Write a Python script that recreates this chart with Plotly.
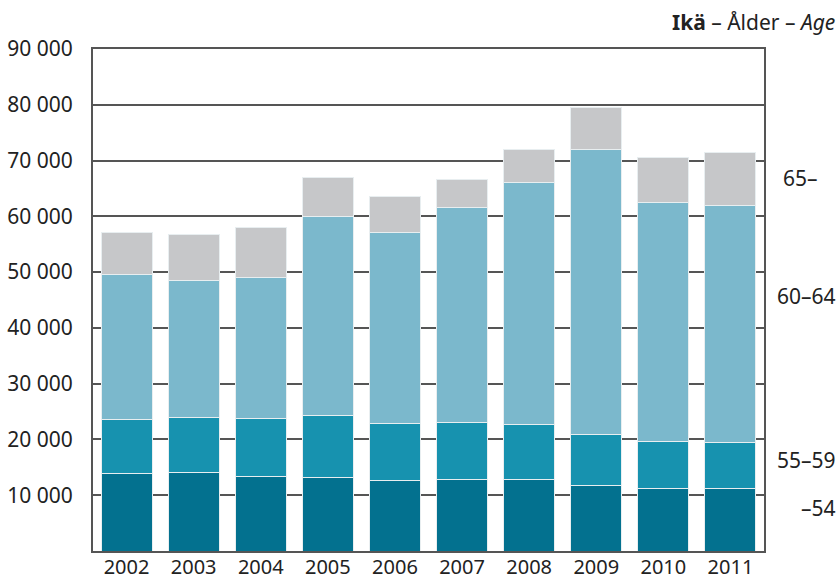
import plotly.graph_objects as go

years = ["2002", "2003", "2004", "2005", "2006", "2007", "2008", "2009", "2010", "2011"]
age_54 = [13920, 14100, 13380, 13200, 12600, 12900, 12780, 11710, 11230, 11170]
age_55_59 = [9610, 9790, 10330, 11050, 10210, 10100, 9860, 9200, 8480, 8240]
age_60_64 = [25990, 24550, 25270, 35660, 34230, 38530, 43430, 51070, 42830, 42600]
age_65 = [7520, 8370, 9080, 7060, 6580, 5080, 5850, 7470, 8070, 9440]
y_ticks = [10000, 20000, 30000, 40000, 50000, 60000, 70000, 80000, 90000]

series_names = ["–54", "55–59", "60–64", "65–"]
series_values = [age_54, age_55_59, age_60_64, age_65]
colors = ["#03718F", "#1792AF", "#7BB8CC", "#C6C7C9"]

FONT = "Noto Sans"
TXT = "#222222"
FS = 21
W, H = 840, 581
plot_l, plot_r, plot_t, plot_b = 93, 764, 49, 551

def px_to_paper(px, py):
    return (px - plot_l) / (plot_r - plot_l), (plot_b - py) / (plot_b - plot_t)

fig = go.Figure()
for name, vals, col in zip(series_names, series_values, colors):
    fig.add_trace(go.Bar(x=years, y=vals, name=name,
                         marker=dict(color=col, line=dict(color="#E8EEF0", width=1))))

label_pos = [(838, 508, "right"), (838, 460, "right"), (838, 296, "right"), (781, 178, "left")]
for name, (x, y, anc) in zip(series_names, label_pos):
    ax, ay = px_to_paper(x, y)
    fig.add_annotation(text=name, x=ax, y=ay, xref="paper", yref="paper",
                       xanchor=anc, yanchor="middle", showarrow=False,
                       font=dict(family=FONT, size=FS, color=TXT))

tx, ty = px_to_paper(837, 22)
fig.add_annotation(text="<b>Ikä</b> – Ålder – <i>Age</i>", x=tx, y=ty,
                   xref="paper", yref="paper", xanchor="right", yanchor="middle",
                   showarrow=False, font=dict(family=FONT, size=FS, color=TXT))

fig.update_layout(
    barmode="stack",
    bargap=0.24,
    width=W, height=H,
    margin=dict(l=plot_l, r=W - plot_r, t=plot_t, b=H - plot_b, autoexpand=False),
    plot_bgcolor="white", paper_bgcolor="white",
    showlegend=False,
    separators=", ",
    font=dict(family=FONT, size=FS, color=TXT),
    xaxis=dict(showline=True, linecolor="#555555", linewidth=2, mirror=True,
               ticks="", ticklabelstandoff=-3, tickfont=dict(size=20, color=TXT)),
    yaxis=dict(range=[0, 90000], tickvals=y_ticks, tickformat=",d",
               showgrid=True, gridcolor="#555555", gridwidth=1.5,
               showline=True, linecolor="#555555", linewidth=2, mirror=True,
               ticks="", ticklabelstandoff=14, zeroline=False,
               tickfont=dict(size=FS, color=TXT)),
)

fig.write_html("out.html", config={"displayModeBar": False},
               post_script="document.body.style.margin='0';window.dispatchEvent(new Event('resize'));")
